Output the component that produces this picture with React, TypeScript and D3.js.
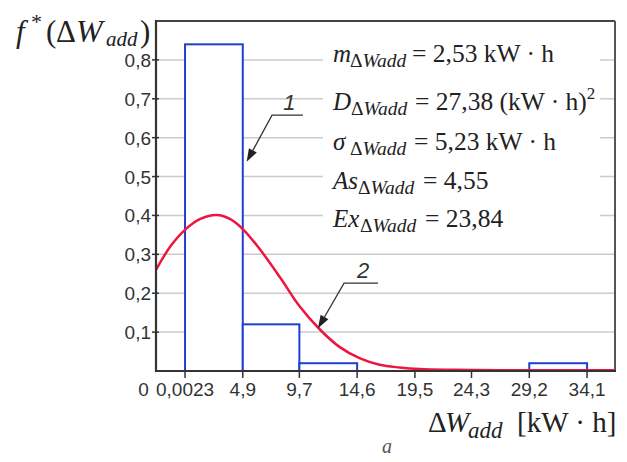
import React from "react";
import * as d3 from "d3";

const binEdges = [0.0023, 4.9, 9.7, 14.6, 19.5, 24.3, 29.2, 34.1];
const binFreq = [0.84, 0.12, 0.02, 0, 0, 0, 0.02];
const xTickLabels = ["0,0023", "4,9", "9,7", "14,6", "19,5", "24,3", "29,2", "34,1"];
const yTicks = [0.1, 0.2, 0.3, 0.4, 0.5, 0.6, 0.7, 0.8];
const yTickLabels = ["0,1", "0,2", "0,3", "0,4", "0,5", "0,6", "0,7", "0,8"];
const curveX = [-2.46, -1.25, 0, 1.3, 2.7, 3.8, 4.9, 6.4, 8.1, 9.7, 11.4, 13.1, 14.8, 16.5, 18.2, 19.9, 22.5, 26.7, 36.47];
const curveY = [0.26, 0.32, 0.363, 0.391, 0.401, 0.391, 0.365, 0.311, 0.239, 0.167, 0.108, 0.062, 0.033, 0.016, 0.009, 0.005, 0.003, 0.002, 0.002];
const statNames = ["m", "D", "σ", "As", "Ex"];
const statValues = ["2,53 kW · h", "27,38 (kW · h)", "5,23 kW · h", "4,55", "23,84"];

const W = 627, H = 462;
const L = 156, R = 615, T = 21, B = 371;
const serif = "'Liberation Serif', 'Times New Roman', serif";
const sans = "'Liberation Sans', Arial, sans-serif";

export default function App() {
  const x = d3.scaleLinear().domain([-2.46, 36.47]).range([L, R]);
  const y = d3.scaleLinear().domain([0, 0.9]).range([B, T]);
  const pts: [number, number][] = curveX.map((v, i) => [v, curveY[i]]);
  const line = d3
    .line<[number, number]>()
    .x((d) => x(d[0]))
    .y((d) => y(d[1]))
    .curve(d3.curveCatmullRom.alpha(0.5));

  const statBaselines = [62, 110, 150, 188.5, 227];
  const subX = [350, 351, 350, 358, 360];
  const eqX = [412, 415, 414, 423, 425];

  const arrow = (tip: [number, number], elbow: [number, number], shelfEnd: number, label: string, key: string) => {
    const tx = x(tip[0]), ty = y(tip[1]);
    const ex = x(elbow[0]), ey = y(elbow[1]);
    const sx = x(shelfEnd);
    const ang = Math.atan2(ty - ey, tx - ex);
    const len = 13, wid = 4.5;
    const bx = tx - len * Math.cos(ang), by = ty - len * Math.sin(ang);
    const p1 = [bx + wid * Math.sin(ang), by - wid * Math.cos(ang)];
    const p2 = [bx - wid * Math.sin(ang), by + wid * Math.cos(ang)];
    return (
      <g key={key}>
        <path d={`M${sx},${ey}L${ex},${ey}L${bx},${by}`} fill="none" stroke="#333" strokeWidth={1.3} />
        <path d={`M${tx},${ty}L${p1[0]},${p1[1]}L${p2[0]},${p2[1]}Z`} fill="#222" />
        <text x={(ex + sx) / 2 + 2} y={ey - 5} fontFamily={sans} fontStyle="italic" fontSize={22} fill="#333" textAnchor="middle">
          {label}
        </text>
      </g>
    );
  };

  return (
    <svg width={W} height={H} style={{ position: "absolute", left: 0, top: 0, background: "#fff" }}>
      <defs>
        <clipPath id="plotclip">
          <rect x={L} y={T} width={R - L} height={B - T} />
        </clipPath>
      </defs>
      {/* grid */}
      {yTicks.map((t) => (
        <line key={"g" + t} x1={L} x2={R} y1={y(t)} y2={y(t)} stroke="#cccccc" strokeWidth={1.5} />
      ))}
      {/* white box behind stats */}
      <rect x={323} y={36} width={277} height={208} fill="#fff" />
      {/* bars */}
      {binFreq.map((f, i) =>
        f > 0 ? (
          <rect
            key={"b" + i}
            x={x(binEdges[i])}
            y={y(f)}
            width={x(binEdges[i + 1]) - x(binEdges[i])}
            height={y(0) - y(f)}
            fill="#fff"
            stroke="#1f3fd0"
            strokeWidth={2}
          />
        ) : null
      )}
      {/* curve */}
      <path d={line(pts) || ""} fill="none" stroke="#ee1540" strokeWidth={2.5} clipPath="url(#plotclip)" />
      {/* frame */}
      <line x1={L} x2={R} y1={T} y2={T} stroke="#444" strokeWidth={2} />
      <line x1={R} x2={R} y1={T} y2={B} stroke="#555" strokeWidth={2} />
      <line x1={L} x2={L} y1={T - 1} y2={B + 1} stroke="#333" strokeWidth={2.2} />
      <line x1={L - 1} x2={R + 1} y1={B} y2={B} stroke="#333" strokeWidth={2.2} />
      {/* y ticks */}
      {yTicks.map((t, i) => (
        <g key={"yt" + t}>
          <line x1={L - 4} x2={L + 3} y1={y(t)} y2={y(t)} stroke="#333" strokeWidth={1.5} />
          <text x={L - 5} y={y(t) + 7} textAnchor="end" fontFamily={sans} fontSize={19} fill="#333">
            {yTickLabels[i]}
          </text>
        </g>
      ))}
      {/* x ticks */}
      {binEdges.map((t, i) => (
        <g key={"xt" + t}>
          <line x1={x(t)} x2={x(t)} y1={B} y2={B + 7} stroke="#333" strokeWidth={1.5} />
          <text x={x(t)} y={396} textAnchor="middle" fontFamily={sans} fontSize={19} fill="#333">
            {xTickLabels[i]}
          </text>
        </g>
      ))}
      <text x={143.5} y={396} textAnchor="middle" fontFamily={sans} fontSize={19} fill="#333">
        0
      </text>
      {/* stats */}
      {statNames.map((n, i) => (
        <g key={"s" + i} fontFamily={serif} fill="#222">
          <text x={333} y={statBaselines[i]} fontSize={25} fontStyle="italic">
            {n}
          </text>
          <text x={subX[i]} y={statBaselines[i] + 5} fontSize={19.5}>
            <tspan>Δ</tspan>
            <tspan fontStyle="italic">Wadd</tspan>
          </text>
          <text x={eqX[i]} y={statBaselines[i]} fontSize={25.5}>
            <tspan>{"= " + statValues[i]}</tspan>
            {i === 1 ? <tspan fontSize={17} dy={-11}>2</tspan> : null}
          </text>
        </g>
      ))}
      {/* annotations */}
      {arrow([5.23, 0.538], [7.38, 0.658], 10.0, "1", "a1")}
      {arrow([11.28, 0.11], [13.49, 0.226], 16.37, "2", "a2")}
      {/* y axis label */}
      <g fontFamily={serif} fill="#222">
        <text x={16} y={42} fontSize={31} fontStyle="italic">f</text>
        <text x={31} y={29} fontSize={22}>*</text>
        <text x={46} y={42} fontSize={31}>(</text>
        <text x={56} y={42} fontSize={31}>Δ</text>
        <text x={76} y={42} fontSize={32} fontStyle="italic">W</text>
        <text x={106} y={46} fontSize={21} fontStyle="italic">add</text>
        <text x={140} y={42} fontSize={31}>)</text>
      </g>
      {/* x axis label */}
      <g fontFamily={serif} fill="#222">
        <text x={428} y={432} fontSize={29}>Δ</text>
        <text x={445} y={432} fontSize={29} fontStyle="italic">W</text>
        <text x={468} y={438} fontSize={23} fontStyle="italic">add</text>
        <text x={517} y={432} fontSize={29}>[kW · h]</text>
      </g>
      <text x={382} y={453} fontFamily={serif} fontStyle="italic" fontSize={20} fill="#555">
        a
      </text>
    </svg>
  );
}
